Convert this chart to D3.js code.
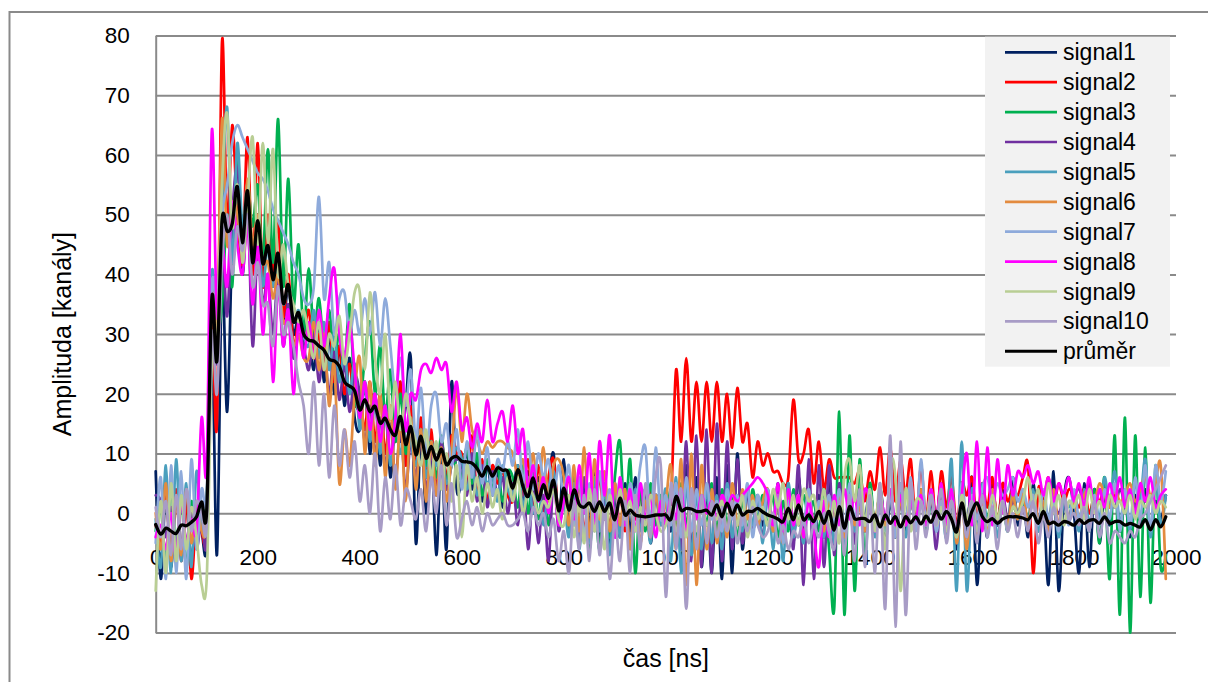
<!DOCTYPE html>
<html>
<head>
<meta charset="utf-8">
<script src="https://cdn.jsdelivr.net/npm/d3@7"></script>
<style>
  body { margin: 0; background: #fff; }
  svg { display: block; }
  text { font-family: "Liberation Sans", Arial, sans-serif; fill: #000; }
</style>
</head>
<body>
<svg id="chart" width="1208" height="682"></svg>
<script>
// Ten digitised pulses (amplitude in channels), one sample every 10 ns from 0 to 1980 ns.
const signal1 = [
  7, -11, 4, -9, 3, -6, 2, -8, 1, -3,
  -5, 30, -7, 40, 17, 45, 55, 40, 52, 44,
  50, 40, 45, 38, 42, 32, 38, 30, 33, 28,
  30, 24, 32, 22, 30, 20, 28, 18, 26, 16,
  14, 22, 10, 20, 8, 18, 6, 16, 12, 18,
  26, -5, 14, 0, 12, -7, 10, -6, 22, 4,
  6, 10, 4, 9, 2, 8, 3, 7, 1, 6,
  4, 8, 2, 7, 0, 6, -1, 5, 10, -2,
  9, -3, 6, -4, 5, -2, 7, -5, 4, -6,
  3, -4, 5, -3, 6, -2, 4, -5, 3, -1,
  2, -3, 5, -6, 8, -7, 6, -9, 4, -10,
  6, -11, 8, -10, 10, -6, 4, -3, 2, -2,
  4, -3, 5, -4, 2, -5, 6, -3, 4, -2,
  3, -4, 5, -2, 4, -3, 2, -5, 3, -1,
  4, -2, 3, -5, 2, -4, 5, -3, 2, -1,
  3, -2, 4, -1, 5, -3, 2, -6, 4, -4,
  6, -12, 3, -4, 5, -2, 4, -3, 6, -2,
  3, -4, 5, -3, 2, -12, 7, -13, 2, 6,
  0, -10, 5, -9, 4, -5, 3, -2, 5, -3,
  2, -4, 3, -2, 4, -3, 2, -1, 3
];
const signal2 = [
  -2, -5, 3, -7, 4, -8, 2, -11, 0, -3,
  -3, 32, 15, 79, 48, 65, 50, 42, 63, 40,
  62, 38, 50, 40, 49, 33, 40, 28, 32, 30,
  34, 26, 30, 24, 32, 22, 28, 20, 25, 18,
  20, 14, 22, 12, 20, 10, 18, 12, 22, 8,
  18, 8, 16, 6, 14, 4, 12, 6, 13, 10,
  10, 4, 13, 3, 9, 2, 8, 5, 7, 3,
  2, 7, 3, 9, 1, 8, 0, 6, 9, -1,
  2, 6, -2, 5, -3, 4, -2, 6, -1, 3,
  -2, 4, -3, 5, -1, 3, -2, 4, -1, 0,
  0, 2, 24, 12, 26, 12, 22, 12, 22, 12,
  22, 12, 20, 11, 21, 12, 15, 6, 12, 8,
  10, 7, 7, 5, 6, 19, 9, 10, 14, 5,
  12, 4, 9, 6, 6, 6, 6, 5, 7, 2,
  7, 4, 11, 3, 11, 2, 9, 3, 9, -2,
  8, -1, 7, -2, 7, 1, 6, -2, 5, 3,
  6, -1, 5, 1, 6, -2, 5, 2, 4, 3,
  6, 8, -10, 4, 2, 6, 1, 5, 2, 4,
  3, 1, 4, 0, 3, 2, 4, 1, 3, 2,
  2, 3, 1, 4, 2, 3, 1, 2, 3
];
const signal3 = [
  -3, 1, -8, 4, -6, 3, -9, 2, -5, 1,
  2, 35, 30, 35, 50, 38, 60, 45, 55, 48,
  55, 42, 61, 42, 66, 38, 56, 35, 45, 30,
  41, 30, 36, 28, 34, 26, 30, 24, 35, 20,
  18, 26, 32, 20, 28, 16, 24, 12, 20, 10,
  16, 10, 14, 8, 12, 6, 13, 5, 11, 7,
  6, 11, 5, 10, 3, 9, 4, 8, 2, 7,
  6, 1, 8, 0, 7, -1, 6, -2, 5, 0,
  4, -3, 6, -5, 3, -6, 2, -6, 5, -4,
  6, 12, -2, 9, -10, 4, -3, 5, -2, 3,
  -1, 4, -3, 5, -2, 4, -4, 3, -2, 5,
  -3, 4, -2, 3, -4, 2, -3, 4, -1, 3,
  -2, 3, -4, 2, -3, 4, -2, 3, -1, 2,
  -3, 4, -6, -16, 17, -17, 13, -13, 9, -8,
  5, -3, 4, -2, 3, -4, 2, -1, 3, -2,
  4, -3, 2, -1, 3, -2, 4, -3, 2, -1,
  3, -2, 2, -1, 3, -1, 2, -2, 1, 0,
  2, -1, 3, -2, 2, -1, 1, -2, 2, -1,
  3, -2, 2, -3, 4, -5, 6, -11, 13, -17,
  16, -20, 13, -14, 11, -15, 8, -9, -7
];
const signal4 = [
  3, 2, -4, 1, -7, 2, -5, 0, -6, -1,
  -4, 38, 25, 45, 33, 50, 58, 45, 52, 28,
  45, 35, 40, 30, 40, 28, 35, 26, 30, 28,
  24, 30, 22, 28, 20, 27, 19, 25, 17, 23,
  20, 12, 18, 10, 16, 8, 15, 6, 14, 4,
  12, 6, 13, 4, 10, 3, 12, 4, 8, 9,
  8, 3, 10, 2, 8, 1, 7, 3, 6, 0,
  5, -2, 6, -6, 4, -5, 3, -8, 6, -3,
  3, -2, 5, -4, 6, -5, 4, -3, 2, -2,
  4, -3, 2, -5, 3, -2, 4, -1, 3, -2,
  2, -1, 5, -6, 12, -8, 13, -9, 14, -10,
  15, -8, 12, -6, 9, -5, 4, -3, 2, -4,
  3, -2, 1, -4, 5, -6, 8, -12, 9, -11,
  8, -9, 8, -7, 5, -4, 3, -5, 4, -3,
  2, -3, 4, -2, 3, -4, 2, -1, 3, -2,
  2, -1, 3, -6, 4, -2, 3, -5, 2, -1,
  3, -2, 2, -3, 1, -2, 3, -1, 2, 0,
  1, -2, 3, -1, 2, -3, 1, 0, 2, -1,
  3, 4, 2, 5, 1, 4, 2, 3, 1, 4,
  2, 3, 1, 4, 2, 3, 1, 2, 3
];
const signal5 = [
  -1, -9, 8, -10, 9, -8, 5, -9, 7, -2,
  1, 40, 30, 50, 68, 42, 62, 48, 55, 42,
  48, 38, 45, 38, 42, 35, 38, 32, 34, 30,
  28, 34, 26, 32, 24, 30, 22, 27, 20, 25,
  14, 22, 12, 20, 10, 18, 8, 16, 10, 14,
  12, 8, 14, 6, 12, 8, 10, 5, 8, 11,
  9, 4, 8, 3, 7, 5, 6, 2, 8, 4,
  3, 8, 1, 6, 0, 5, -2, 4, 7, -1,
  2, -4, 5, -6, 3, -5, 6, -3, 4, -7,
  5, -4, 3, -6, 4, -3, 2, -5, 3, -2,
  4, -8, 6, -10, 5, -7, 3, -6, 4, -5,
  3, -6, 5, -4, 2, -3, 4, -2, 3, -5,
  4, -6, 3, -8, 5, -4, 2, -5, 4, -3,
  2, -4, 3, -5, 2, -6, 4, -3, 2, -2,
  3, -4, 2, -3, 4, -2, 3, -4, 2, -1,
  3, -2, 4, -3, 2, -4, 9, -13, 12, -13,
  4, -3, 5, -2, 3, -4, 2, -3, 4, -1,
  3, -2, 4, -3, 2, -1, 3, -4, 2, 1,
  2, -3, 4, -2, 3, -1, 6, 1, 7, -2,
  4, -3, 5, 2, 9, -4, 6, -2, 3
];
const signal6 = [
  0, -6, 5, -8, 3, -7, 4, -5, 2, -3,
  0, 36, 30, 66, 45, 52, 50, 44, 56, 45,
  50, 42, 42, 36, 40, 32, 33, 28, 30, 26,
  26, 32, 24, 30, 18, 25, 5, 14, 8, 20,
  26, 10, 22, 8, 20, 6, 18, 4, 16, 2,
  16, 4, 14, 2, 12, 3, 11, 2, 10, 21,
  12, 20, 14, 12, 10, 12, 11, 12, 12, 11,
  10, 6, 9, 4, 10, 3, 11, 2, 8, 9,
  6, -2, 8, -3, 11, -4, 9, -1, 7, -3,
  5, -2, 4, -6, 3, -5, 2, -4, 3, -1,
  2, 8, -6, 9, -12, 10, -12, 8, -6, 4,
  -5, 3, -4, 5, -2, 4, -1, 3, -2, 2,
  4, -3, 2, -5, 3, -1, 2, -4, 3, -2,
  1, -3, 2, -1, 3, -4, 2, -2, 1, -3,
  2, -1, 3, -2, 4, -3, 2, -1, 3, -2,
  4, -1, 3, -2, 2, -3, 4, -5, 2, -6,
  3, -4, 2, -3, 4, -1, 2, -2, 3, -1,
  4, -2, 3, -1, 2, -3, 4, -2, 3, -1,
  2, -1, 3, 4, 2, 5, 3, 1, 4, 2,
  3, 5, 2, 4, 6, 3, 5, 8, -11
];
const signal7 = [
  -5, 6, -11, 8, -10, 7, -11, 9, -6, 4,
  3, 38, 35, 50, 55, 62, 65, 63, 61, 59,
  57, 56, 54, 51, 49, 47, 45, 42, 40, 36,
  35, 38, 53, 36, 42, 30, 36, 37, 30, 34,
  30, 36, 30, 37, 28, 36, 28, 20, 26, 18,
  24, 12, 21, 10, 18, 20, 12, 15, 8, 14,
  4, 12, 6, 14, 5, 11, 3, 9, 7, 12,
  8, 14, 5, 12, 4, 10, 6, 9, 3, 8,
  3, 8, -2, 6, -4, 5, -3, 7, -1, 4,
  -3, 6, -2, 5, 1, 8, 11, -2, 11, -1,
  3, -2, 5, -4, 6, -3, 4, -2, 5, -1,
  2, -3, 4, -1, 3, -2, 5, -4, 3, -1,
  4, -2, 3, -5, 2, -1, 3, -2, 4, -3,
  2, -1, 3, -2, 4, -3, 5, -1, 3, -2,
  4, -3, 2, -1, 3, -4, 5, -2, 6, -3,
  9, -2, 4, -3, 2, -1, 3, -4, 5, -2,
  3, -1, 4, 6, 2, 5, 3, 4, 6, 2,
  4, 1, 3, -2, 4, -1, 2, -3, 3, -2,
  4, -1, 2, -3, 3, -2, 4, -1, 5, -3,
  4, -2, 6, -1, 8, -3, 8, 2, 7
];
const signal8 = [
  -4, -2, -6, 0, -7, 2, -5, -1, -3, 16,
  8, 64, 33, 45, 38, 52, 45, 40, 48, 35,
  45, 30, 40, 22, 38, 28, 34, 20, 32, 26,
  32, 26, 34, 28, 36, 41, 30, 26, 32, 24,
  16, 22, 14, 20, 12, 18, 10, 16, 30, 14,
  20, 19, 24, 25, 23.5, 26, 24, 25, 17, 22,
  14, 16, 11, 15, 12, 19, 12, 15, 17, 12,
  18, 10, 14, 4, 8, 2, 6, 0, 5, -2,
  2, 6, -1, 8, 0, 10, -2, 12, 3, 13,
  -4, 6, -2, 4, -3, 5, -1, 3, -4, 2,
  -2, 3, -1, 4, -3, 2, -1, 3, 0, 2,
  -1, 3, 1, 3, 2, 3, 4, 5, 6, 5,
  3, -2, 5, -3, 4, -2, 3, -4, 2, -3,
  -9, 2, -4, 3, -2, 4, -1, 3, -2, 4,
  2, -3, 3, -1, 4, -2, 3, -2, 2, -1,
  3, -2, 4, -1, 5, -2, 4, -3, 3, 10,
  -2, 12, -3, 11, -2, 9, 0, 8, 3, 7,
  6, 8, 5, 7, 3, 6, 2, 5, 3, 6,
  2, 5, 1, 6, 0, 4, 1, 5, 2, 6,
  1, 4, 0, 5, 2, 6, 1, 3, 4
];
const signal9 = [
  -13, 2, -10, 5, -8, 3, -6, 1, -4, -12,
  -11, 25, 28, 55, 67, 48, 55, 42, 52, 63,
  45, 62, 45, 61, 40, 45, 38, 35, 32, 34,
  30, 26, 32, 24, 30, 28, 33, 25, 30, 37,
  37, 24, 37, 26, 20, 30, 16, 22, 14, 20,
  15, 12, 8, 14, 6, 12, 4, 10, 2, 8,
  -4, 8, 2, 6, 0, 5, 1, 4, -1, 6,
  2, 6, 0, 4, 3, 0, 2, 1, 4, -1,
  -2, 3, -4, 2, -5, 4, -3, 1, -6, 3,
  -2, 4, -1, 2, -3, 1, -2, 3, 0, -3,
  -2, 1, -3, 0, -4, 2, -3, 1, -2, 0,
  -1, 2, -3, 1, -2, 3, -4, 2, -1, 1,
  -2, 4, 1, 5, -1, 3, -2, 4, 2, 3,
  -1, 4, -3, 2, -5, 6, 9, 2, 8, -2,
  4, -3, 5, -6, 8, 6, -13, 4, -3, 2,
  2, -1, 3, -2, 1, -3, 2, -4, 3, -1,
  2, -3, 1, -2, 3, -1, 2, -3, 1, 0,
  2, 6, 1, 4, -1, 5, 0, 3, -2, 2,
  1, 3, -1, 4, 0, 2, -1, 3, 1, 2,
  0, 3, -1, 2, 1, 3, 0, 2, 1
];
const signal10 = [
  1, -4, 2, -7, 3, -6, 4, -3, 2, 0,
  -2, 30, 20, 42, 50, 40, 48, 44, 50, 38,
  42, 35, 35, 28, 38, 30, 32, 28, 22, 18,
  10, 22, 8, 20, 6, 18, 8, 14, 6, 12,
  2, 8, 0, 10, -3, 6, -1, 8, -2, 4,
  2, -1, 4, -3, 6, 0, 8, -2, 5, -4,
  -1, 2, -2, 1, -3, 0, -2, -1, 0, -2,
  -2, -1, 0, -3, 1, -2, 0, -4, -1, -8,
  -3, -10, 2, -6, 3, -8, 4, -7, 1, -11,
  -1, -8, 2, -10, 3, -6, 5, -4, 6, 8,
  -14, 5, -6, 4, -16, 4, -6, 3, -5, 2,
  -4, 1, -3, 2, -5, 0, -3, 1, -2, -4,
  -3, 0, -5, -2, -6, -3, -4, -1, -5, -2,
  -4, 0, -3, -6, 2, -7, 3, -8, 4, -9,
  3, -10, 5, -16, 13, -19, 12, -17, 5, -6,
  2, -4, 3, -2, 4, -5, 2, -3, 1, -4,
  2, -5, 3, -4, 1, -6, 2, -3, 0, -4,
  1, -3, 2, -5, 0, -4, 1, -2, 3, -1,
  0, -2, 1, -3, 2, -4, 0, -5, -3, -4,
  -5, -3, -4, -1, 0, 2, 4, 6, 8
];
// Mean of the ten pulses.
const average = [
  -1.9, -3.5, -2.5, -3.0, -3.4, -2.0, -2.1, -1.5, -0.6, 1.9,
  0.5, 36, 25.5, 49, 47.2, 48.5, 54.7, 45.3, 54, 42,
  49, 41.8, 44.8, 39.1, 43.5, 35.2, 38.3, 32.1, 33.6, 30,
  29, 28.8, 28, 27.3, 25.8, 25.5, 24.6, 22, 21.3, 20.5,
  17.3, 19, 17, 17.9, 15.1, 15.9, 14, 13.1, 16.2, 11.5,
  14.5, 9.8, 12.9, 9.2, 11.2, 8.9, 10.7, 8.1, 9.2, 9.5,
  8.7, 8.6, 8.4, 7.5, 6.2, 7.8, 6.2, 7.6, 7.2, 7.0,
  4.2, 7.3, 4.5, 2.8, 5.9, 2.2, 4.8, 2.5, 5.5, 0.4,
  4.2, 0.5, 3.9, 1.5, 1.0, 1.7, 0.3, 1.9, 0.3, 1.7,
  -1.1, 2.5, -0.3, 0.5, -0.3, -0.5, -0.6, -0.5, -0.3, -0.3,
  -0.3, -1.0, 2.8, 0.5, 0.8, 0.7, 0.3, 0.3, 0.5, -0.3,
  1.4, -0.6, 1.7, -0.3, 1.4, -0.3, 0.3, 0.3, 0.8, 0.2,
  -0.3, -0.6, -1.0, -1.4, 0.8, -1.1, 1.4, -1.1, -0.3, -1.4,
  0.3, -1.7, 0.3, -2.8, 1.1, -2.5, 1.1, -0.9, -0.9, -0.9,
  -1.4, -0.3, -2.3, -0.3, -1.7, -0.6, -2.3, -0.6, -1.6, -0.6,
  -1.8, -0.5, -1.5, 0.3, -1.0, 0.3, -1.0, -3.1, 1.7, -2.0,
  0.3, 1.7, -0.5, -1.4, -0.9, -1.7, -1.0, -0.6, -0.6, -0.6,
  -0.8, -1.1, -0.1, -1.7, 0.3, -1.7, -1.5, -2.0, -1.4, -1.6,
  -2.0, -1.1, -1.7, -1.2, -1.1, -1.7, -0.6, -1.7, -1.4, -1.4,
  -2.0, -1.7, -2.0, -2.3, -1.1, -2.8, -1.1, -2.3, -0.6
];

const seriesNames = ["signal1", "signal2", "signal3", "signal4", "signal5",
                     "signal6", "signal7", "signal8", "signal9", "signal10", "průměr"];
const seriesColors = ["#002060", "#FF0000", "#00B050", "#7030A0", "#4A9FBD",
                      "#E38B3F", "#8EAADB", "#FF00FF", "#B9CE94", "#A89CC6", "#000000"];
const xTickValues = [0, 200, 400, 600, 800, 1000, 1200, 1400, 1600, 1800, 2000];
const yTickValues = [-20, -10, 0, 10, 20, 30, 40, 50, 60, 70, 80];

const seriesData = [signal1, signal2, signal3, signal4, signal5,
                    signal6, signal7, signal8, signal9, signal10, average];
// sampling grid: one sample every 10 ns
const sampleTimes = d3.range(0, 1990, 10);

const svg = d3.select("#chart");
const gridColor = "#8A8A8A";
const fontFamily = '"Liberation Sans", Arial, sans-serif';
// plain integer labels with an ASCII hyphen for negatives
const plainNumber = d => String(d);

// outer chart frame
svg.append("rect")
  .attr("x", 9.5).attr("y", 12)
  .attr("width", 1300).attr("height", 700)
  .attr("fill", "none").attr("stroke", gridColor).attr("stroke-width", 2);

const plot = { left: 155.7, right: 1176, top: 35.6, bottom: 632.6 };
const x = d3.scaleLinear().domain([0, 2000]).range([plot.left, plot.right]);
const y = d3.scaleLinear().domain([-20, 80]).range([plot.bottom, plot.top]);

// value axis with horizontal gridlines
const yAxis = svg.append("g")
  .attr("transform", `translate(${plot.left},0)`)
  .call(d3.axisLeft(y).tickValues(yTickValues).tickFormat(plainNumber)
        .tickSize(-(plot.right - plot.left)).tickSizeOuter(0).tickPadding(26));
yAxis.select(".domain").attr("stroke", gridColor).attr("stroke-width", 2);
yAxis.selectAll(".tick line").attr("stroke", gridColor).attr("stroke-width", 2);
yAxis.selectAll(".tick text")
  .attr("font-size", 22.5).attr("font-family", fontFamily)
  .attr("fill", "#000");

// time axis labels, hung from the zero line
const xAxis = svg.append("g")
  .attr("transform", `translate(0,${y(0)})`)
  .call(d3.axisBottom(x).tickValues(xTickValues).tickFormat(plainNumber)
        .tickSize(0).tickPadding(0));
xAxis.select(".domain").remove();
xAxis.selectAll(".tick text")
  .attr("y", 52).attr("dy", 0)
  .attr("font-size", 22.5).attr("font-family", fontFamily)
  .attr("fill", "#000");

// axis titles
svg.append("text")
  .attr("transform", `translate(71,${(plot.top + plot.bottom) / 2}) rotate(-90)`)
  .attr("text-anchor", "middle")
  .attr("font-size", 25)
  .text("Amplituda [kanály]");
svg.append("text")
  .attr("x", (plot.left + plot.right) / 2).attr("y", 667)
  .attr("text-anchor", "middle")
  .attr("font-size", 25)
  .text("čas [ns]");

// smoothed series lines
const line = d3.line()
  .x((d, i) => x(sampleTimes[i]))
  .y(d => y(d))
  .curve(d3.curveCardinal.tension(0));

svg.append("g").selectAll("path")
  .data(seriesData)
  .join("path")
  .attr("d", d => line(d))
  .attr("fill", "none")
  .attr("stroke", (d, i) => seriesColors[i])
  .attr("stroke-width", (d, i) => i === 10 ? 3.3 : 2.7)
  .attr("stroke-linejoin", "round")
  .attr("stroke-linecap", "round");

// legend
const legend = svg.append("g");
legend.append("rect")
  .attr("x", 985).attr("y", 36.7).attr("width", 185).attr("height", 330)
  .attr("fill", "#F2F2F2");
const items = legend.selectAll("g.item")
  .data(seriesNames)
  .join("g")
  .attr("class", "item")
  .attr("transform", (d, i) => `translate(0,${52.3 + i * 29.9})`);
items.append("line")
  .attr("x1", 1005).attr("x2", 1057)
  .attr("stroke", (d, i) => seriesColors[i])
  .attr("stroke-width", (d, i) => i === 10 ? 3 : 2.7);
items.append("text")
  .attr("x", 1063).attr("y", 0).attr("dy", "0.35em")
  .attr("font-size", 23)
  .text(d => d);
</script>
</body>
</html>
